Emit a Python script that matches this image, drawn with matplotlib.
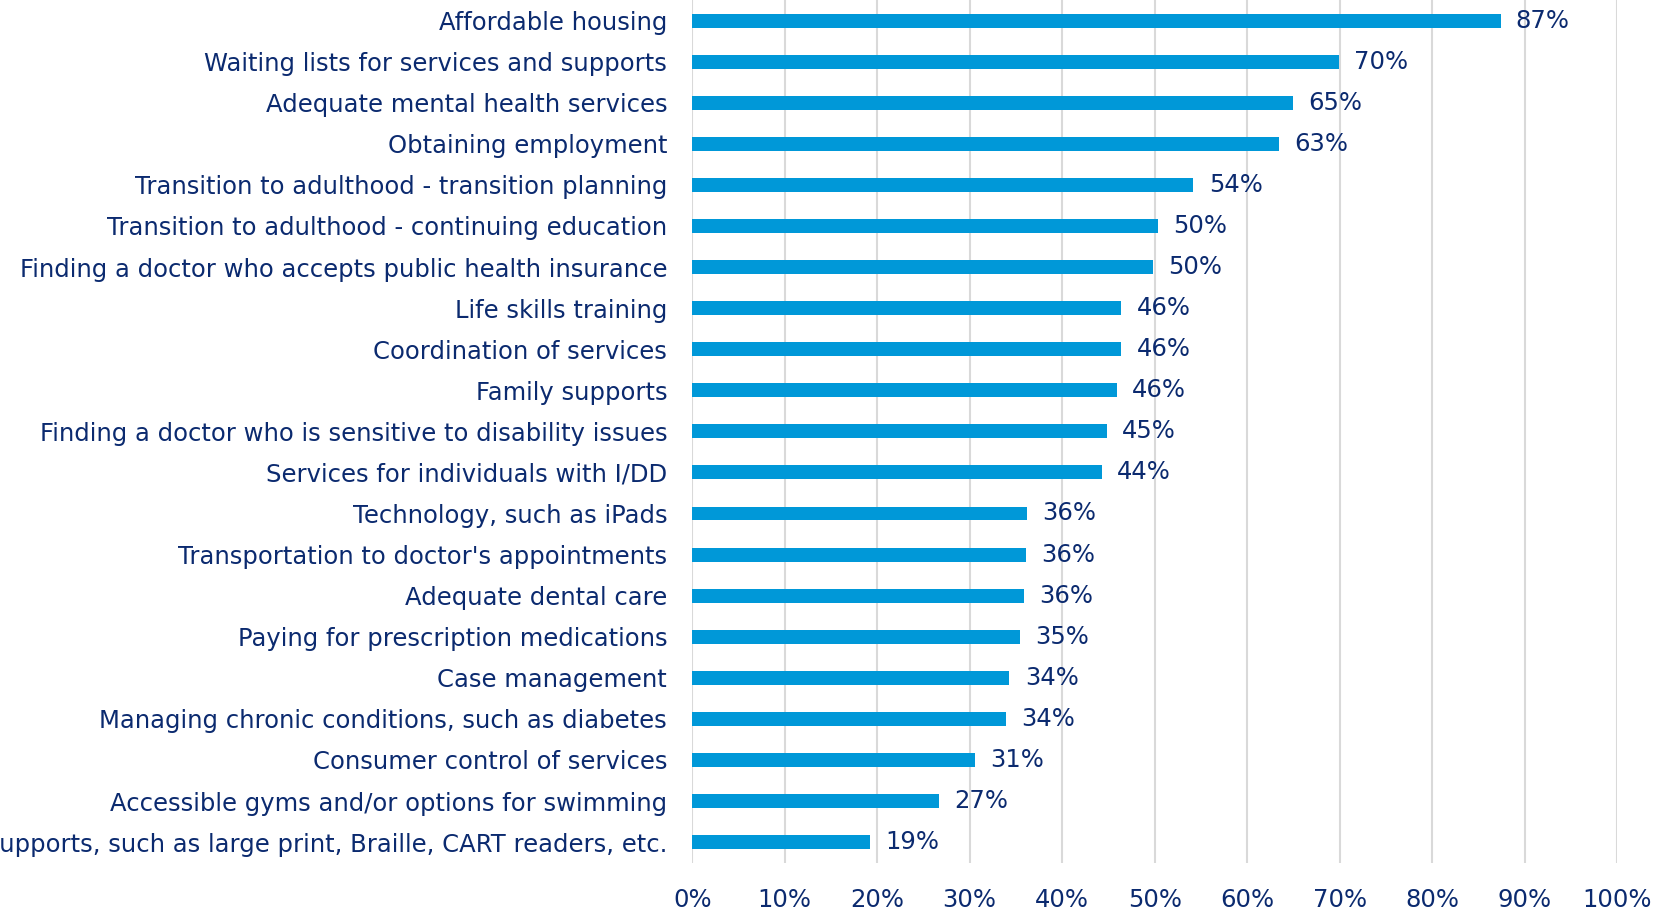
import matplotlib.pyplot as plt
from matplotlib.ticker import MultipleLocator, FuncFormatter

# survey items, top to bottom as shown
items = [
    "Affordable housing",
    "Waiting lists for services and supports",
    "Adequate mental health services",
    "Obtaining employment",
    "Transition to adulthood - transition planning",
    "Transition to adulthood - continuing education",
    "Finding a doctor who accepts public health insurance",
    "Life skills training",
    "Coordination of services",
    "Family supports",
    "Finding a doctor who is sensitive to disability issues",
    "Services for individuals with I/DD",
    "Technology, such as iPads",
    "Transportation to doctor's appointments",
    "Adequate dental care",
    "Paying for prescription medications",
    "Case management",
    "Managing chronic conditions, such as diabetes",
    "Consumer control of services",
    "Accessible gyms and/or options for swimming",
    "Communication supports, such as large print, Braille, CART readers, etc.",
]
pct = [87.4, 69.9, 65.0, 63.4, 54.2, 50.4, 49.8, 46.4, 46.4, 45.9, 44.8,
       44.3, 36.2, 36.1, 35.9, 35.4, 34.3, 33.9, 30.6, 26.7, 19.2]

bar_color = "#0098D8"
text_color = "#0B2A6F"
grid_color = "#D9D9D9"

plt.rcParams['font.family'] = ['DejaVu Sans']

fig = plt.figure(figsize=(16.56, 9.10), dpi=100)
ax = fig.add_axes([0.418, 0.052, 0.5585, 0.948])

y = list(range(len(items)))
ax.barh(y, pct, height=0.34, color=bar_color, zorder=3)
ax.set_yticks(y)
ax.set_yticklabels(items)
ax.set_ylim(len(items) - 0.5, -0.5)
ax.set_xlim(0, 100)

for yi, v in zip(y, pct):
    ax.annotate(f"{round(v)}%", (v, yi), xytext=(11, 0), textcoords="offset points",
                va="center", ha="left", fontsize=17.5, color=text_color)

ax.xaxis.set_major_locator(MultipleLocator(10))
ax.xaxis.set_major_formatter(FuncFormatter(lambda x, p: f"{x:.0f}%"))
ax.grid(axis="x", color=grid_color, linewidth=1.5, zorder=0)
for s in ax.spines.values():
    s.set_visible(False)
ax.tick_params(axis="both", length=0, colors=text_color, labelsize=17.5)
ax.tick_params(axis="y", pad=18)
ax.tick_params(axis="x", pad=18)

fig.savefig("out.png", dpi=100)
